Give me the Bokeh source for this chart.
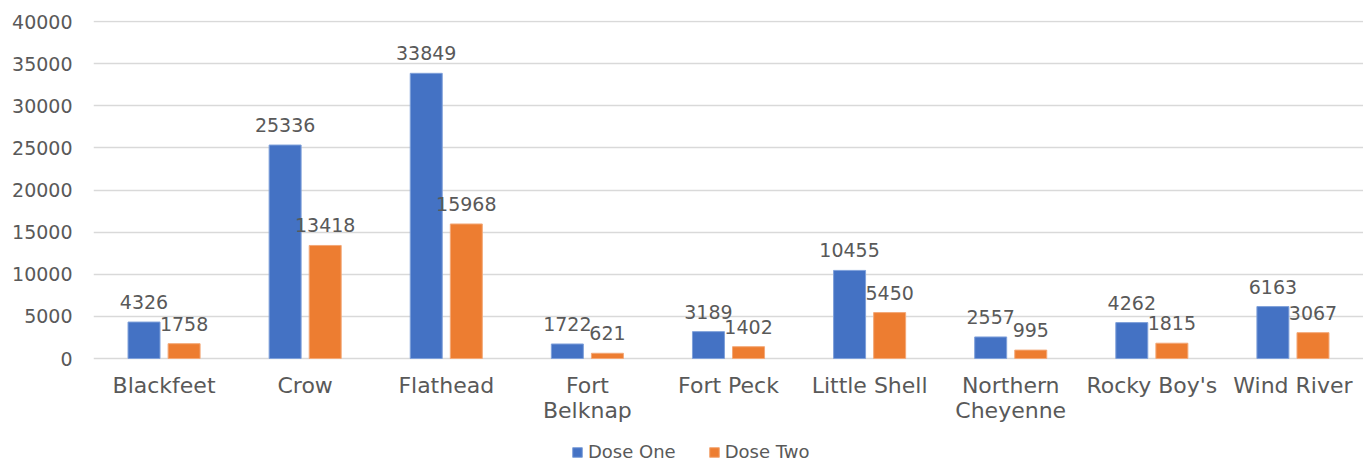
from bokeh.plotting import figure
from bokeh.models import (ColumnDataSource, Range1d, Legend, LegendItem, FixedTicker,
                          NumeralTickFormatter, LinearAxis)
from bokeh.transform import dodge
from bokeh.core.properties import value
from bokeh.embed import file_html
from bokeh.resources import INLINE

categories = ["Blackfeet", "Crow", "Flathead", "Fort Belknap", "Fort Peck",
              "Little Shell", "Northern Cheyenne", "Rocky Boy's", "Wind River"]
label_line1 = ["Blackfeet", "Crow", "Flathead", "Fort", "Fort Peck",
               "Little Shell", "Northern", "Rocky Boy's", "Wind River"]
label_line2 = ["", "", "", "Belknap", "", "", "Cheyenne", "", ""]
dose_one = [4326, 25336, 33849, 1722, 3189, 10455, 2557, 4262, 6163]
dose_two = [1758, 13418, 15968, 621, 1402, 5450, 995, 1815, 3067]
y_ticks = [0, 5000, 10000, 15000, 20000, 25000, 30000, 35000, 40000]

BLUE = "#4472C4"
ORANGE = "#ED7D31"
TXT = "#595959"
FONT = "DejaVu Sans"

idx = list(range(len(categories)))
src = ColumnDataSource(dict(idx=idx, cat=categories, d1=dose_one, d2=dose_two,
                            l1=[str(v) for v in dose_one], l2=[str(v) for v in dose_two]))

# frame spans the whole lower area so the category labels and legend fit inside it
p = figure(x_range=Range1d(-0.5, len(categories) - 0.5), y_range=Range1d(-12344, 40119),
           width=1363, height=462, output_backend="svg", toolbar_location=None,
           x_axis_location=None,
           min_border_left=93, min_border_right=0, min_border_top=20, min_border_bottom=0)
p.outline_line_color = None
p.background_fill_color = "white"
p.border_fill_color = "white"

bw = 0.2267
off = 0.142
r1 = p.vbar(x=dodge("idx", -off), top="d1", bottom=0, width=bw, source=src,
            fill_color=BLUE, line_color="#7FA0DA", line_width=1)
r2 = p.vbar(x=dodge("idx", off), top="d2", bottom=0, width=bw, source=src,
            fill_color=ORANGE, line_color="#F3A877", line_width=1)

p.text(x=dodge("idx", -off), y="d1", text="l1", source=src,
       text_align="center", text_baseline="bottom", y_offset=-13,
       text_font=value(FONT), text_font_size="19px", text_color=TXT)
p.text(x=dodge("idx", off), y="d2", text="l2", source=src,
       text_align="center", text_baseline="bottom", y_offset=-13,
       text_font=value(FONT), text_font_size="19px", text_color=TXT)

p.xgrid.grid_line_color = None
p.ygrid.grid_line_color = "#D9D9D9"
p.ygrid.grid_line_width = 1.5
p.yaxis.ticker = FixedTicker(ticks=y_ticks)
p.yaxis.formatter = NumeralTickFormatter(format="0")
p.yaxis.major_label_text_font_size = "19px"
p.yaxis.major_tick_out = 0
p.yaxis.major_tick_in = 0
p.yaxis.major_label_standoff = 21

ax1 = LinearAxis(ticker=FixedTicker(ticks=idx), fixed_location=0,
                 major_label_overrides={i: s for i, s in zip(idx, label_line1)},
                 major_label_standoff=14)
ax2 = LinearAxis(ticker=FixedTicker(ticks=idx), fixed_location=0,
                 major_label_overrides={i: (s if s else " ") for i, s in zip(idx, label_line2)},
                 major_label_standoff=39)
p.add_layout(ax1, "below")
p.add_layout(ax2, "below")

for ax in (ax1, ax2):
    ax.major_label_text_font_size = "22px"
    ax.major_tick_out = 0
    ax.major_tick_in = 0
for ax in (ax1, ax2, p.yaxis[0]):
    ax.axis_line_color = None
    ax.major_tick_line_color = None
    ax.minor_tick_line_color = None
    ax.major_label_text_color = TXT
    ax.major_label_text_font = FONT

legend = Legend(items=[LegendItem(label="Dose One", renderers=[r1]),
                       LegendItem(label="Dose Two", renderers=[r2])],
                location=(478, 0), orientation="horizontal",
                glyph_width=12, glyph_height=12, label_standoff=5, spacing=32,
                padding=0, margin=0, border_line_color=None, background_fill_alpha=0,
                label_text_font=FONT, label_text_font_size="18px", label_text_color=TXT)
p.add_layout(legend)

open("out.html", "w").write(file_html(p, INLINE))
